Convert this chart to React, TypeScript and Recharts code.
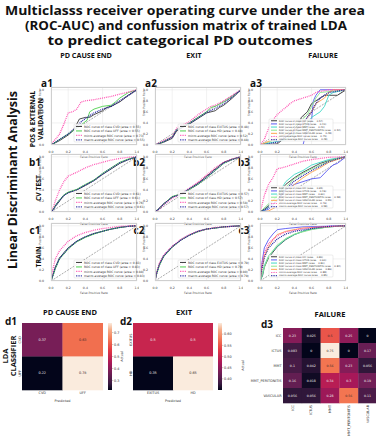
import React from "react";
import { LineChart, Line, XAxis, YAxis, CartesianGrid, ScatterChart, Scatter } from "recharts";

type Pt = [number, number];

// ---------- ROC curves (fpr, tpr) ----------
const DIAGONAL: Pt[] = [[0, 0], [1, 1]];
const ROC_TICKS = [0, 0.2, 0.4, 0.6, 0.8, 1.0];

// a1: PD cause end, validation
const A1_CVD: Pt[] = [[0, 0], [0.1, 0.08], [0.2, 0.18], [0.25, 0.25], [0.3, 0.38], [0.33, 0.47], [0.4, 0.5], [0.45, 0.5], [0.5, 0.55], [0.6, 0.62], [0.65, 0.68], [0.7, 0.7], [0.8, 0.78], [0.9, 0.9], [1, 1]];
const A1_UFF: Pt[] = [[0, 0], [0.1, 0.1], [0.2, 0.2], [0.3, 0.3], [0.38, 0.4], [0.42, 0.45], [0.45, 0.6], [0.5, 0.65], [0.6, 0.7], [0.7, 0.72], [0.75, 0.78], [0.8, 0.85], [0.9, 0.95], [1, 1]];
const A1_MICRO: Pt[] = [[0, 0], [0.02, 0.05], [0.05, 0.1], [0.1, 0.2], [0.15, 0.38], [0.2, 0.58], [0.25, 0.6], [0.3, 0.65], [0.35, 0.78], [0.4, 0.8], [0.5, 0.82], [0.6, 0.85], [0.7, 0.88], [0.8, 0.92], [0.9, 0.96], [1, 1]];
const A1_MACRO: Pt[] = [[0, 0], [0.1, 0.1], [0.2, 0.2], [0.3, 0.33], [0.35, 0.42], [0.4, 0.48], [0.5, 0.58], [0.6, 0.65], [0.7, 0.7], [0.8, 0.8], [0.9, 0.9], [1, 1]];

// a2: exit, validation
const A2_EXITUS: Pt[] = [[0, 0], [0.1, 0.05], [0.2, 0.12], [0.25, 0.25], [0.3, 0.3], [0.4, 0.38], [0.5, 0.48], [0.6, 0.58], [0.7, 0.62], [0.75, 0.68], [0.8, 0.72], [0.9, 0.85], [1, 1]];
const A2_HD: Pt[] = [[0, 0], [0.1, 0.06], [0.2, 0.15], [0.25, 0.28], [0.3, 0.32], [0.4, 0.4], [0.5, 0.5], [0.6, 0.6], [0.65, 0.68], [0.7, 0.7], [0.8, 0.78], [0.9, 0.88], [1, 1]];
const A2_MICRO: Pt[] = [[0, 0], [0.1, 0.08], [0.2, 0.15], [0.25, 0.3], [0.3, 0.35], [0.4, 0.42], [0.5, 0.55], [0.6, 0.65], [0.65, 0.7], [0.7, 0.72], [0.8, 0.8], [0.9, 0.9], [1, 1]];
const A2_MACRO: Pt[] = [[0, 0], [0.1, 0.06], [0.2, 0.14], [0.25, 0.27], [0.3, 0.31], [0.4, 0.39], [0.5, 0.49], [0.6, 0.59], [0.7, 0.66], [0.8, 0.75], [0.9, 0.87], [1, 1]];

// a3: failure, validation
const A3_ICC: Pt[] = [[0, 0], [0.2, 0.02], [0.35, 0.2], [0.45, 0.38], [0.48, 0.5], [0.55, 0.6], [0.6, 0.75], [0.7, 0.85], [0.75, 0.9], [0.9, 0.9], [1, 1]];
const A3_ICTUS: Pt[] = [[0, 0], [0.5, 0], [0.55, 0.3], [0.6, 0.45], [0.62, 0.8], [0.65, 0.9], [0.7, 1], [1, 1]];
const A3_MMT: Pt[] = [[0, 0], [0.3, 0.1], [0.5, 0.3], [0.6, 0.5], [0.7, 0.6], [0.75, 0.7], [0.8, 0.9], [0.85, 0.95], [1, 1]];
const A3_PERIT: Pt[] = [[0, 0], [0.1, 0.05], [0.3, 0.2], [0.45, 0.4], [0.55, 0.55], [0.6, 0.7], [0.65, 0.85], [0.7, 0.95], [1, 1]];
const A3_VASC: Pt[] = [[0, 0], [0.3, 0.2], [0.5, 0.35], [0.55, 0.5], [0.6, 0.6], [0.65, 0.75], [0.75, 0.85], [0.8, 0.95], [0.85, 1], [1, 1]];
const A3_MICRO: Pt[] = [[0, 0], [0.05, 0.1], [0.1, 0.3], [0.15, 0.45], [0.2, 0.55], [0.25, 0.62], [0.3, 0.68], [0.35, 0.75], [0.4, 0.8], [0.5, 0.85], [0.6, 0.9], [0.65, 0.95], [0.7, 0.97], [0.8, 1], [1, 1]];
const A3_MACRO: Pt[] = [[0, 0], [0.2, 0.05], [0.4, 0.25], [0.5, 0.4], [0.6, 0.6], [0.65, 0.75], [0.7, 0.85], [0.8, 0.95], [1, 1]];

// b1: PD cause end, CV test
const B1_CVD: Pt[] = [[0, 0], [0.03, 0.05], [0.05, 0.1], [0.1, 0.2], [0.15, 0.3], [0.2, 0.35], [0.3, 0.4], [0.4, 0.48], [0.5, 0.57], [0.6, 0.68], [0.7, 0.78], [0.8, 0.88], [0.9, 0.95], [1, 1]];
const B1_UFF: Pt[] = [[0, 0], [0.03, 0.06], [0.05, 0.12], [0.1, 0.22], [0.15, 0.31], [0.2, 0.36], [0.3, 0.41], [0.4, 0.5], [0.5, 0.58], [0.6, 0.7], [0.7, 0.8], [0.8, 0.9], [0.9, 0.96], [1, 1]];
const B1_MICRO: Pt[] = [[0, 0], [0.03, 0.1], [0.05, 0.2], [0.1, 0.4], [0.15, 0.55], [0.2, 0.65], [0.3, 0.72], [0.4, 0.8], [0.5, 0.86], [0.6, 0.9], [0.7, 0.94], [0.8, 0.97], [0.9, 0.99], [1, 1]];
const B1_MACRO: Pt[] = [[0, 0], [0.03, 0.05], [0.05, 0.11], [0.1, 0.21], [0.15, 0.3], [0.2, 0.35], [0.3, 0.4], [0.4, 0.49], [0.5, 0.57], [0.6, 0.69], [0.7, 0.79], [0.8, 0.89], [0.9, 0.95], [1, 1]];

// b2: exit, CV test
const B2_EXITUS: Pt[] = [[0, 0], [0.05, 0.07], [0.1, 0.15], [0.2, 0.27], [0.3, 0.32], [0.4, 0.42], [0.5, 0.52], [0.6, 0.65], [0.7, 0.78], [0.8, 0.9], [0.9, 0.96], [1, 1]];
const B2_HD: Pt[] = [[0, 0], [0.05, 0.06], [0.1, 0.14], [0.2, 0.28], [0.3, 0.33], [0.4, 0.41], [0.5, 0.5], [0.6, 0.62], [0.7, 0.75], [0.8, 0.88], [0.9, 0.95], [1, 1]];
const B2_MICRO: Pt[] = [[0, 0], [0.05, 0.05], [0.1, 0.13], [0.2, 0.25], [0.3, 0.33], [0.4, 0.43], [0.5, 0.54], [0.6, 0.67], [0.7, 0.8], [0.8, 0.9], [0.9, 0.96], [1, 1]];
const B2_MACRO: Pt[] = [[0, 0], [0.05, 0.06], [0.1, 0.14], [0.2, 0.27], [0.3, 0.32], [0.4, 0.42], [0.5, 0.51], [0.6, 0.63], [0.7, 0.76], [0.8, 0.89], [0.9, 0.95], [1, 1]];

// b3: failure, CV test
const B3_ICC: Pt[] = [[0, 0], [0.05, 0.05], [0.1, 0.12], [0.2, 0.3], [0.3, 0.5], [0.4, 0.62], [0.5, 0.72], [0.6, 0.8], [0.7, 0.88], [0.8, 0.93], [0.9, 0.97], [1, 1]];
const B3_ICTUS: Pt[] = [[0, 0], [0.1, 0.05], [0.2, 0.2], [0.3, 0.4], [0.4, 0.5], [0.5, 0.55], [0.6, 0.6], [0.7, 0.62], [0.8, 0.78], [0.85, 0.85], [0.9, 0.88], [1, 1]];
const B3_MMT: Pt[] = [[0, 0], [0.05, 0.02], [0.1, 0.1], [0.2, 0.3], [0.3, 0.55], [0.4, 0.68], [0.5, 0.75], [0.6, 0.85], [0.7, 0.9], [0.8, 0.95], [1, 1]];
const B3_PERIT: Pt[] = [[0, 0], [0.1, 0.15], [0.2, 0.28], [0.3, 0.45], [0.4, 0.6], [0.5, 0.7], [0.6, 0.78], [0.7, 0.85], [0.8, 0.92], [0.9, 0.97], [1, 1]];
const B3_VASC: Pt[] = [[0, 0], [0.1, 0.02], [0.2, 0.1], [0.3, 0.3], [0.4, 0.5], [0.5, 0.62], [0.6, 0.72], [0.7, 0.8], [0.8, 0.9], [0.9, 0.95], [1, 1]];
const B3_MICRO: Pt[] = [[0, 0], [0.02, 0.1], [0.05, 0.3], [0.1, 0.5], [0.15, 0.62], [0.2, 0.78], [0.3, 0.82], [0.4, 0.87], [0.5, 0.92], [0.6, 0.95], [0.7, 0.97], [0.8, 0.99], [1, 1]];
const B3_MACRO: Pt[] = [[0, 0], [0.1, 0.08], [0.2, 0.22], [0.3, 0.42], [0.4, 0.56], [0.5, 0.66], [0.6, 0.75], [0.7, 0.83], [0.8, 0.91], [0.9, 0.96], [1, 1]];

// c1: PD cause end, train
const C1_CVD: Pt[] = [[0, 0], [0.02, 0.1], [0.05, 0.25], [0.1, 0.42], [0.2, 0.6], [0.3, 0.72], [0.4, 0.8], [0.5, 0.86], [0.6, 0.9], [0.7, 0.94], [0.8, 0.97], [0.9, 0.99], [1, 1]];
const C1_UFF: Pt[] = [[0, 0], [0.02, 0.08], [0.05, 0.22], [0.1, 0.4], [0.2, 0.58], [0.3, 0.71], [0.4, 0.79], [0.5, 0.85], [0.6, 0.9], [0.7, 0.94], [0.8, 0.97], [0.9, 0.99], [1, 1]];
const C1_MICRO: Pt[] = [[0, 0], [0.02, 0.2], [0.05, 0.4], [0.1, 0.55], [0.2, 0.72], [0.3, 0.82], [0.4, 0.88], [0.5, 0.92], [0.6, 0.95], [0.7, 0.97], [0.8, 0.99], [1, 1]];
const C1_MACRO: Pt[] = [[0, 0], [0.02, 0.09], [0.05, 0.24], [0.1, 0.41], [0.2, 0.59], [0.3, 0.72], [0.4, 0.8], [0.5, 0.86], [0.6, 0.9], [0.7, 0.94], [0.8, 0.97], [0.9, 0.99], [1, 1]];

// c2: exit, train
const C2_EXITUS: Pt[] = [[0, 0], [0.02, 0.15], [0.05, 0.3], [0.1, 0.45], [0.2, 0.62], [0.3, 0.74], [0.4, 0.83], [0.5, 0.9], [0.6, 0.94], [0.7, 0.96], [0.8, 0.98], [1, 1]];
const C2_HD: Pt[] = [[0, 0], [0.02, 0.13], [0.05, 0.28], [0.1, 0.44], [0.2, 0.61], [0.3, 0.74], [0.4, 0.83], [0.5, 0.89], [0.6, 0.94], [0.7, 0.96], [0.8, 0.98], [1, 1]];
const C2_MICRO: Pt[] = [[0, 0], [0.02, 0.16], [0.05, 0.32], [0.1, 0.47], [0.2, 0.63], [0.3, 0.75], [0.4, 0.84], [0.5, 0.9], [0.6, 0.94], [0.7, 0.97], [0.8, 0.98], [1, 1]];
const C2_MACRO: Pt[] = [[0, 0], [0.02, 0.14], [0.05, 0.29], [0.1, 0.45], [0.2, 0.62], [0.3, 0.74], [0.4, 0.83], [0.5, 0.9], [0.6, 0.94], [0.7, 0.96], [0.8, 0.98], [1, 1]];

// c3: failure, train
const C3_ICC: Pt[] = [[0, 0], [0.03, 0.1], [0.05, 0.25], [0.1, 0.42], [0.2, 0.62], [0.3, 0.75], [0.4, 0.84], [0.5, 0.9], [0.6, 0.94], [0.8, 0.98], [1, 1]];
const C3_ICTUS: Pt[] = [[0, 0], [0.02, 0.3], [0.05, 0.6], [0.1, 0.75], [0.15, 0.85], [0.2, 0.93], [0.3, 0.95], [0.5, 0.98], [1, 1]];
const C3_MMT: Pt[] = [[0, 0], [0.03, 0.12], [0.05, 0.28], [0.1, 0.45], [0.2, 0.63], [0.3, 0.76], [0.4, 0.84], [0.5, 0.9], [0.6, 0.94], [0.8, 0.98], [1, 1]];
const C3_PERIT: Pt[] = [[0, 0], [0.05, 0.25], [0.1, 0.45], [0.2, 0.65], [0.3, 0.77], [0.4, 0.85], [0.6, 0.93], [0.8, 0.98], [1, 1]];
const C3_VASC: Pt[] = [[0, 0], [0.02, 0.2], [0.05, 0.45], [0.1, 0.62], [0.15, 0.75], [0.2, 0.84], [0.3, 0.9], [0.5, 0.96], [1, 1]];
const C3_MICRO: Pt[] = [[0, 0], [0.02, 0.3], [0.05, 0.5], [0.1, 0.68], [0.2, 0.82], [0.3, 0.89], [0.5, 0.95], [0.7, 0.98], [1, 1]];
const C3_MACRO: Pt[] = [[0, 0], [0.02, 0.2], [0.05, 0.42], [0.1, 0.6], [0.2, 0.76], [0.3, 0.85], [0.4, 0.9], [0.6, 0.95], [0.8, 0.99], [1, 1]];

// ---------- legend labels ----------
const A1_LABELS = ["ROC curve of class CVD (area = 0.55)", "ROC curve of class UFF (area = 0.55)", "micro-average ROC curve (area = 0.73)", "macro-average ROC curve (area = 0.55)"];
const A2_LABELS = ["ROC curve of class EXITUS (area = 0.48)", "ROC curve of class HD (area = 0.48)", "micro-average ROC curve (area = 0.52)", "macro-average ROC curve (area = 0.48)"];
const A3_LABELS = ["ROC curve of class ICC (area = 0.57)", "ROC curve of class ICTUS (area = 0.40)", "ROC curve of class MMT (area = 0.43)", "ROC curve of class MMT_PERITONITIS (area = 0.52)", "ROC curve of class VASCULAR (area = 0.48)", "micro-average ROC curve (area = 0.75)", "macro-average ROC curve (area = 0.48)"];
const B1_LABELS = ["ROC curve of class CVD (area = 0.61)", "ROC curve of class UFF (area = 0.61)", "micro-average ROC curve (area = 0.76)", "macro-average ROC curve (area = 0.61)"];
const B2_LABELS = ["ROC curve of class EXITUS (area = 0.57)", "ROC curve of class HD (area = 0.57)", "micro-average ROC curve (area = 0.58)", "macro-average ROC curve (area = 0.57)"];
const B3_LABELS = ["ROC curve of class ICC (area = 0.65)", "ROC curve of class ICTUS (area = 0.46)", "ROC curve of class MMT (area = 0.60)", "ROC curve of class MMT_PERITONITIS (area = 0.58)", "ROC curve of class VASCULAR (area = 0.55)", "micro-average ROC curve (area = 0.76)", "macro-average ROC curve (area = 0.58)"];
const C1_LABELS = ["ROC curve of class CVD (area = 0.83)", "ROC curve of class UFF (area = 0.83)", "micro-average ROC curve (area = 0.88)", "macro-average ROC curve (area = 0.83)"];
const C2_LABELS = ["ROC curve of class EXITUS (area = 0.79)", "ROC curve of class HD (area = 0.79)", "micro-average ROC curve (area = 0.80)", "macro-average ROC curve (area = 0.79)"];
const C3_LABELS = ["ROC curve of class ICC (area = 0.80)", "ROC curve of class ICTUS (area = 0.90)", "ROC curve of class MMT (area = 0.80)", "ROC curve of class MMT_PERITONITIS (area = 0.82)", "ROC curve of class VASCULAR (area = 0.86)", "micro-average ROC curve (area = 0.88)", "macro-average ROC curve (area = 0.85)"];

// ---------- confusion matrices ----------
const D1_CLASSES = ["CVD", "UFF"];
const D1_VALUES = [
  [0.37, 0.63],
  [0.22, 0.78],
];
const D1_CBAR_TICKS = [0.3, 0.4, 0.5, 0.6, 0.7];

const D2_CLASSES = ["EXITUS", "HD"];
const D2_VALUES = [
  [0.5, 0.5],
  [0.35, 0.65],
];
const D2_CBAR_TICKS = [0.4, 0.45, 0.5, 0.55, 0.6];

const D3_CLASSES = ["ICC", "ICTUS", "MMT", "MMT_PERITONITIS", "VASCULAR"];
const D3_VALUES = [
  [0.23, 0.025, 0.5, 0.25, 0],
  [0.083, 0, 0.75, 0, 0.17],
  [0.1, 0.042, 0.56, 0.23, 0.056],
  [0.16, 0.018, 0.34, 0.3, 0.19],
  [0.056, 0.056, 0.28, 0.56, 0.11],
];

// ---------- styles ----------
const C_BLACK = "#3a3a3a";
const C_GREEN = "#4fd14f";
const C_BLUE = "#5a5af2";
const C_TURQ = "#41d9c6";
const C_LGREEN = "#8fe88f";
const C_ORANGE = "#ffa54f";
const C_MICRO = "#ff4fb0";
const C_MACRO = "#1c1c9c";

type Curve = { data: Pt[]; color: string; dotted?: boolean };

const two = (a: Pt[], b: Pt[], mi: Pt[], ma: Pt[]): Curve[] => [
  { data: a, color: C_BLACK },
  { data: b, color: C_GREEN },
  { data: mi, color: C_MICRO, dotted: true },
  { data: ma, color: C_MACRO, dotted: true },
];
const five = (cs: Pt[][], mi: Pt[], ma: Pt[]): Curve[] => [
  ...cs.map((d, i) => ({ data: d, color: [C_BLACK, C_BLUE, C_TURQ, C_LGREEN, C_ORANGE][i] })),
  { data: mi, color: C_MICRO, dotted: true },
  { data: ma, color: C_MACRO, dotted: true },
];

const COL_X = [51, 155, 260];
const ROW_Y = [87, 154, 223];
const PLOT_W = 86;
const PLOT_H = 58;
const YW = 14;
const XH = 13;

const PANELS = [
  { tag: "a1", col: 0, row: 0, curves: two(A1_CVD, A1_UFF, A1_MICRO, A1_MACRO), labels: A1_LABELS },
  { tag: "a2", col: 1, row: 0, curves: two(A2_EXITUS, A2_HD, A2_MICRO, A2_MACRO), labels: A2_LABELS },
  { tag: "a3", col: 2, row: 0, curves: five([A3_ICC, A3_ICTUS, A3_MMT, A3_PERIT, A3_VASC], A3_MICRO, A3_MACRO), labels: A3_LABELS },
  { tag: "b1", col: 0, row: 1, curves: two(B1_CVD, B1_UFF, B1_MICRO, B1_MACRO), labels: B1_LABELS },
  { tag: "b2", col: 1, row: 1, curves: two(B2_EXITUS, B2_HD, B2_MICRO, B2_MACRO), labels: B2_LABELS },
  { tag: "b3", col: 2, row: 1, curves: five([B3_ICC, B3_ICTUS, B3_MMT, B3_PERIT, B3_VASC], B3_MICRO, B3_MACRO), labels: B3_LABELS },
  { tag: "c1", col: 0, row: 2, curves: two(C1_CVD, C1_UFF, C1_MICRO, C1_MACRO), labels: C1_LABELS },
  { tag: "c2", col: 1, row: 2, curves: two(C2_EXITUS, C2_HD, C2_MICRO, C2_MACRO), labels: C2_LABELS },
  { tag: "c3", col: 2, row: 2, curves: five([C3_ICC, C3_ICTUS, C3_MMT, C3_PERIT, C3_VASC], C3_MICRO, C3_MACRO), labels: C3_LABELS },
];

const toPts = (d: Pt[]) => d.map(([x, y]) => ({ x, y }));

function RocLegend({ curves, labels }: { curves: Curve[]; labels: string[] }) {
  const many = curves.length > 4;
  const w = many ? 64 : 62;
  const h = many ? 22 : 18;
  const lh = h / curves.length;
  const fs = many ? 2.4 : 3;
  const x = many ? YW + 9 : YW + PLOT_W - w - 1;
  const y = 1 + PLOT_H - (many ? 4 : 3) - h;
  return (
    <svg style={{ position: "absolute", left: x, top: y, overflow: "visible" }} width={w} height={h}>
      <rect x={0} y={0} width={w} height={h} rx={1} fill="rgba(255,255,255,0.85)" stroke="#d0d0d0" strokeWidth={0.4} />
      {curves.map((c, i) => {
        const cy = lh * (i + 0.5) + 0.2;
        return (
          <g key={i}>
            <line x1={2} x2={8} y1={cy} y2={cy} stroke={c.color} strokeWidth={c.dotted ? 1.2 : 1} strokeDasharray={c.dotted ? "0.8 0.9" : undefined} />
            <text x={10} y={cy + fs * 0.35} fontSize={fs} fill="#333" fontFamily="DejaVu Sans">
              {labels[i]}
            </text>
          </g>
        );
      })}
    </svg>
  );
}

function RocPanel({ left, top, curves, labels }: { left: number; top: number; curves: Curve[]; labels: string[] }) {
  const w = YW + PLOT_W + 2;
  const h = PLOT_H + XH + 1;
  return (
    <div style={{ position: "absolute", left: left - YW, top: top - 1, width: w, height: h }}>
      <LineChart width={w} height={h} margin={{ top: 1, right: 2, left: 0, bottom: 0 }}>
        <CartesianGrid stroke="#e4e4e4" strokeWidth={0.5} />
        <XAxis
          dataKey="x"
          type="number"
          domain={[0, 1]}
          ticks={ROC_TICKS}
          tickFormatter={(v: number) => v.toFixed(1)}
          tick={{ fontSize: 3.2, fill: "#444", fontFamily: "DejaVu Sans" }}
          tickLine={false}
          axisLine={false}
          tickMargin={0}
          height={XH}
          allowDataOverflow
          label={{ value: "False Positive Rate", position: "insideBottom", offset: 0.5, fontSize: 3, fill: "#555", fontFamily: "DejaVu Sans" }}
        />
        <YAxis
          type="number"
          domain={[0, 1.05]}
          ticks={ROC_TICKS}
          tickFormatter={(v: number) => v.toFixed(1)}
          tick={{ fontSize: 3.2, fill: "#444", fontFamily: "DejaVu Sans" }}
          tickLine={false}
          axisLine={false}
          tickMargin={1}
          width={YW}
          allowDataOverflow
          label={{ value: "True Positive Rate", angle: -90, position: "insideLeft", offset: 3, fontSize: 3, fill: "#555", fontFamily: "DejaVu Sans" }}
        />
        <Line data={toPts(DIAGONAL)} dataKey="y" stroke="#555" strokeWidth={0.5} strokeDasharray="2 1.2" dot={false} isAnimationActive={false} />
        {curves.map((c, i) => (
          <Line
            key={i}
            data={toPts(c.data)}
            dataKey="y"
            stroke={c.color}
            strokeWidth={c.dotted ? 1.3 : 0.9}
            strokeDasharray={c.dotted ? "0.9 1" : undefined}
            dot={false}
            isAnimationActive={false}
          />
        ))}
      </LineChart>
      <div style={{ position: "absolute", left: YW, top: 1, width: PLOT_W, height: PLOT_H, border: "0.6px solid #cfcfcf", boxSizing: "border-box" }} />
      <RocLegend curves={curves} labels={labels} />
    </div>
  );
}

// seaborn "rocket" colormap
const ROCKET: [number, string][] = [
  [0, "#03051a"],
  [0.083, "#35193e"],
  [0.25, "#701f57"],
  [0.417, "#ad1759"],
  [0.583, "#e13342"],
  [0.75, "#f37651"],
  [0.917, "#f6b48f"],
  [1, "#faebdd"],
];
const hex = (s: string) => [1, 3, 5].map((i) => parseInt(s.slice(i, i + 2), 16));
function rocket(t: number) {
  const u = Math.max(0, Math.min(1, t));
  for (let i = 1; i < ROCKET.length; i++) {
    if (u <= ROCKET[i][0]) {
      const [t0, c0] = ROCKET[i - 1];
      const [t1, c1] = ROCKET[i];
      const f = (u - t0) / (t1 - t0);
      const a = hex(c0);
      const b = hex(c1);
      return `rgb(${a.map((v, k) => Math.round(v + (b[k] - v) * f)).join(",")})`;
    }
  }
  return ROCKET[ROCKET.length - 1][1];
}

const fmtVal = (v: number) => (v === 0 ? "0" : String(+v.toPrecision(2)));

type HeatProps = {
  left: number;
  top: number;
  w: number;
  h: number;
  classes: string[];
  values: number[][];
  vmin: number;
  vmax: number;
  yw: number;
  xh: number;
  rotateY: boolean;
  rotateX: boolean;
  fs: number;
  actualX: number;
};

function Heatmap({ left, top, w, h, classes, values, vmin, vmax, yw, xh, rotateY, rotateX, fs, actualX }: HeatProps) {
  const n = classes.length;
  const cw = w / n;
  const ch = h / n;
  const cells = values.flatMap((row, r) => row.map((v, c) => ({ x: c + 0.5, y: r + 0.5, v })));
  const ticks = classes.map((_, i) => i + 0.5);
  const Cell = (p: any) => {
    const t = (p.payload.v - vmin) / (vmax - vmin);
    return (
      <g>
        <rect x={p.cx - cw / 2} y={p.cy - ch / 2} width={cw + 0.3} height={ch + 0.3} fill={rocket(t)} />
        <text x={p.cx} y={p.cy + fs * 0.35} textAnchor="middle" fontSize={fs} fill={t > 0.6 ? "#3a2a2a" : "#eee"} fontFamily="DejaVu Sans">
          {fmtVal(p.payload.v)}
        </text>
      </g>
    );
  };
  const XTick = (p: any) => {
    const label = classes[Math.floor(p.payload.value)];
    if (rotateX)
      return (
        <text x={p.x + 1.2} y={p.y + 2} transform={`rotate(-90, ${p.x + 1.2}, ${p.y + 2})`} textAnchor="end" fontSize={3.4} fill="#333" fontFamily="DejaVu Sans">
          {label}
        </text>
      );
    return (
      <text x={p.x} y={p.y + 4} textAnchor="middle" fontSize={3.4} fill="#333" fontFamily="DejaVu Sans">
        {label}
      </text>
    );
  };
  const YTick = (p: any) => {
    const label = classes[Math.floor(p.payload.value)];
    if (rotateY)
      return (
        <text x={p.x - 1.5} y={p.y} transform={`rotate(-90, ${p.x - 1.5}, ${p.y})`} textAnchor="middle" fontSize={3.4} fill="#333" fontFamily="DejaVu Sans">
          {label}
        </text>
      );
    return (
      <text x={p.x - 1.5} y={p.y + 1.2} textAnchor="end" fontSize={3.4} fill="#333" fontFamily="DejaVu Sans">
        {label}
      </text>
    );
  };
  return (
    <div style={{ position: "absolute", left: left - yw, top, width: yw + w, height: h + xh }}>
      <ScatterChart width={yw + w} height={h + xh} margin={{ top: 0, right: 0, bottom: 0, left: 0 }}>
        <XAxis
          type="number"
          dataKey="x"
          domain={[0, n]}
          ticks={ticks}
          interval={0}
          tick={XTick}
          tickLine={false}
          tickSize={0}
          tickMargin={0}
          axisLine={false}
          height={xh}
          label={rotateX ? undefined : { value: "Predicted", position: "insideBottom", offset: 1, fontSize: 3.4, fill: "#333", fontFamily: "DejaVu Sans" }}
        />
        <YAxis type="number" dataKey="y" domain={[0, n]} reversed ticks={ticks} interval={0} tick={YTick} tickLine={false} tickSize={0} tickMargin={0} axisLine={false} width={yw} />
        <Scatter data={cells} shape={Cell} isAnimationActive={false} />
      </ScatterChart>
      <svg style={{ position: "absolute", left: 0, top: 0, overflow: "visible", pointerEvents: "none" }} width={1} height={1}>
        <text x={actualX} y={h / 2} transform={`rotate(-90, ${actualX}, ${h / 2})`} textAnchor="middle" fontSize={3.4} fill="#333" fontFamily="DejaVu Sans">
          Actual
        </text>
      </svg>
    </div>
  );
}

function Colorbar({ left, top, height, vmin, vmax, ticks, id, digits }: { left: number; top: number; height: number; vmin: number; vmax: number; ticks: number[]; id: string; digits: number }) {
  const stops = Array.from({ length: 11 }, (_, i) => i / 10);
  return (
    <svg style={{ position: "absolute", left, top, overflow: "visible" }} width={4} height={height}>
      <defs>
        <linearGradient id={id} x1="0" y1="1" x2="0" y2="0">
          {stops.map((s) => (
            <stop key={s} offset={s} stopColor={rocket(s)} />
          ))}
        </linearGradient>
      </defs>
      <rect x={0} y={0} width={4} height={height} fill={`url(#${id})`} />
      {ticks.map((t) => {
        const y = height - ((t - vmin) / (vmax - vmin)) * height;
        return (
          <g key={t}>
            <line x1={4} x2={5.3} y1={y} y2={y} stroke="#444" strokeWidth={0.3} />
            <text x={6} y={y + 1.2} fontSize={3.4} fill="#333" fontFamily="DejaVu Sans">
              {t.toFixed(digits)}
            </text>
          </g>
        );
      })}
    </svg>
  );
}

const BOLD = { fontFamily: "Open Sans", fontWeight: 700, fill: "#111" } as const;
const TAG_DX = [-4, -16, -16];
const TAG_DY = [0, 12, 11];

export default function App() {
  return (
    <div style={{ position: "absolute", left: 0, top: 0, width: 376, height: 440, background: "#fff", overflow: "hidden" }}>
      <svg style={{ position: "absolute", left: 0, top: 0 }} width={376} height={440}>
        <text x={185} y={15} textAnchor="middle" fontSize={13} textLength={360} lengthAdjust="spacingAndGlyphs" {...BOLD}>
          Multiclasss receiver operating curve under the area
        </text>
        <text x={186} y={30} textAnchor="middle" fontSize={13} textLength={322} lengthAdjust="spacingAndGlyphs" {...BOLD}>
          (ROC-AUC) and confussion matrix of trained LDA
        </text>
        <text x={180} y={45} textAnchor="middle" fontSize={13} textLength={265} lengthAdjust="spacingAndGlyphs" {...BOLD}>
          to predict categorical PD outcomes
        </text>
        <text x={86} y={58} textAnchor="middle" fontSize={7.2} {...BOLD}>PD CAUSE END</text>
        <text x={194} y={58} textAnchor="middle" fontSize={7.2} {...BOLD}>EXIT</text>
        <text x={323} y={58} textAnchor="middle" fontSize={7.2} {...BOLD}>FAILURE</text>

        <text x={17} y={180} transform="rotate(-90, 17, 180)" textAnchor="middle" fontSize={12.5} textLength={178} lengthAdjust="spacingAndGlyphs" {...BOLD}>
          Linear Discriminant Analysis
        </text>
        <text x={35} y={119} transform="rotate(-90, 35, 119)" textAnchor="middle" fontSize={6.8} {...BOLD}>POS &amp; EXTERNAL</text>
        <text x={43} y={119} transform="rotate(-90, 43, 119)" textAnchor="middle" fontSize={6.8} {...BOLD}>VALIDATION</text>
        <text x={41} y={188} transform="rotate(-90, 41, 188)" textAnchor="middle" fontSize={6.8} {...BOLD}>CV TEST</text>
        <text x={41} y={257} transform="rotate(-90, 41, 257)" textAnchor="middle" fontSize={6.8} {...BOLD}>TRAIN</text>

        {PANELS.map((p) => (
          <text key={p.tag} x={COL_X[p.col] + TAG_DX[p.row]} y={ROW_Y[p.row] + TAG_DY[p.row]} textAnchor="middle" fontSize={10} {...BOLD}>
            {p.tag}
          </text>
        ))}

        <text x={70} y={315} textAnchor="middle" fontSize={7.5} {...BOLD}>PD CAUSE END</text>
        <text x={184} y={315} textAnchor="middle" fontSize={7.5} {...BOLD}>EXIT</text>
        <text x={330} y={317} textAnchor="middle" fontSize={7.5} {...BOLD}>FAILURE</text>
        <text x={11} y={325} textAnchor="middle" fontSize={10} {...BOLD}>d1</text>
        <text x={126} y={325} textAnchor="middle" fontSize={10} {...BOLD}>d2</text>
        <text x={267} y={328} textAnchor="middle" fontSize={10} {...BOLD}>d3</text>
        <text x={8} y={356} transform="rotate(-90, 8, 356)" textAnchor="middle" fontSize={7.5} {...BOLD}>LDA</text>
        <text x={16} y={356} transform="rotate(-90, 16, 356)" textAnchor="middle" fontSize={7.5} {...BOLD}>CLASSIFIER</text>
      </svg>

      {PANELS.map((p) => (
        <RocPanel key={p.tag} left={COL_X[p.col]} top={ROW_Y[p.row]} curves={p.curves} labels={p.labels} />
      ))}

      <Heatmap left={22} top={323} w={81} h={67} classes={D1_CLASSES} values={D1_VALUES} vmin={0.22} vmax={0.78} yw={5} xh={13} rotateY rotateX={false} fs={3.4} actualX={-2} />
      <Colorbar left={108} top={323} height={67} vmin={0.22} vmax={0.78} ticks={D1_CBAR_TICKS} id="cb1" digits={1} />
      <Heatmap left={133} top={323} w={80} h={67} classes={D2_CLASSES} values={D2_VALUES} vmin={0.35} vmax={0.65} yw={5} xh={13} rotateY rotateX={false} fs={3.4} actualX={-5} />
      <Colorbar left={218} top={323} height={67} vmin={0.35} vmax={0.65} ticks={D2_CBAR_TICKS} id="cb2" digits={2} />
      <Heatmap left={283} top={328} w={94} h={75} classes={D3_CLASSES} values={D3_VALUES} vmin={0} vmax={0.75} yw={40} xh={40} rotateY={false} rotateX fs={3.2} actualX={0.5} />
    </div>
  );
}
